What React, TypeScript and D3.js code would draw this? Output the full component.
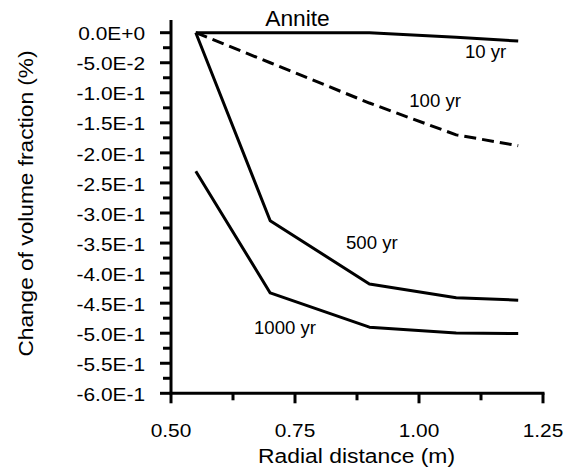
import React from "react";
import * as d3 from "d3";

const radialDistance = [0.55, 0.7, 0.9, 1.075, 1.2];
const yr10 = [0, 0, 0, -0.0075, -0.014];
const yr100 = [0, -0.05, -0.117, -0.17, -0.188];
const yr500 = [0, -0.313, -0.418, -0.441, -0.445];
const yr1000 = [-0.2305, -0.433, -0.49, -0.4995, -0.5005];

const yTickValues = [0, -0.05, -0.1, -0.15, -0.2, -0.25, -0.3, -0.35, -0.4, -0.45, -0.5, -0.55, -0.6];
const yTickLabels = ["0.0E+0", "-5.0E-2", "-1.0E-1", "-1.5E-1", "-2.0E-1", "-2.5E-1", "-3.0E-1", "-3.5E-1", "-4.0E-1", "-4.5E-1", "-5.0E-1", "-5.5E-1", "-6.0E-1"];
const xTickValues = [0.5, 0.75, 1.0, 1.25];
const xTickLabels = ["0.50", "0.75", "1.00", "1.25"];

const seriesNames = ["10 yr", "100 yr", "500 yr", "1000 yr"];
const labelX = [1.0927, 0.9804, 0.8528, 0.6673];
const labelY = [-0.0427, -0.1233, -0.3593, -0.502];

const FONT = "'Liberation Sans', Arial, Helvetica, sans-serif";

export default function App() {
  const x = d3.scaleLinear().domain([0.5, 1.25]).range([171, 543]);
  const y = d3.scaleLinear().domain([0, -0.6]).range([32.7, 393.3]);
  const line = d3
    .line<number>()
    .x((_, i) => x(radialDistance[i]))
    .y((d) => y(d));

  const series = [yr10, yr100, yr500, yr1000];
  const dashes = [undefined, "12,6", undefined, undefined];

  const yMinor: number[] = [];
  for (let i = 0; i < 12; i++) yMinor.push(-0.025 - i * 0.05);
  const xMinor = [0.625, 0.875, 1.125];

  return (
    <svg
      width={569}
      height={470}
      style={{ position: "absolute", left: 0, top: 0, background: "#fff" }}
      fontFamily={FONT}
    >
      <rect x={0} y={0} width={569} height={470} fill="#fff" />
      {/* axes */}
      <line x1={x(0.5)} x2={x(0.5)} y1={y(0.021)} y2={y(-0.6)} stroke="#000" strokeWidth={3} />
      <line x1={x(0.5) - 1.5} x2={x(1.25) + 1.5} y1={y(-0.6)} y2={y(-0.6)} stroke="#000" strokeWidth={3} />
      {yTickValues.map((v, i) => (
        <g key={"yt" + i}>
          <line x1={x(0.5) - 11} x2={x(0.5)} y1={y(v)} y2={y(v)} stroke="#000" strokeWidth={3} />
          <text
            transform={`translate(145,${y(v) + 7.6}) scale(1.13,1)`}
            textAnchor="end"
            fontSize={18.5}
            fill="#000"
          >
            {yTickLabels[i]}
          </text>
        </g>
      ))}
      {yMinor.map((v, i) => (
        <line key={"ym" + i} x1={x(0.5) - 8} x2={x(0.5)} y1={y(v)} y2={y(v)} stroke="#000" strokeWidth={3} />
      ))}
      {xTickValues.map((v, i) => (
        <g key={"xt" + i}>
          <line x1={x(v)} x2={x(v)} y1={y(-0.6)} y2={y(-0.6) + 10} stroke="#000" strokeWidth={3} />
          <text
            transform={`translate(${x(v)},437.3) scale(1.13,1)`}
            textAnchor="middle"
            fontSize={18.5}
            fill="#000"
          >
            {xTickLabels[i]}
          </text>
        </g>
      ))}
      {xMinor.map((v, i) => (
        <line key={"xm" + i} x1={x(v)} x2={x(v)} y1={y(-0.6)} y2={y(-0.6) + 7} stroke="#000" strokeWidth={3} />
      ))}
      {/* axis titles */}
      <text transform="translate(356.5,463) scale(1.09,1)" textAnchor="middle" fontSize={21} fill="#000">
        Radial distance (m)
      </text>
      <text transform="translate(33,203.5) rotate(-90) scale(1.08,1)" textAnchor="middle" fontSize={21} fill="#000">
        Change of volume fraction (%)
      </text>
      {/* series */}
      {series.map((s, i) => (
        <path
          key={"s" + i}
          d={line(s) || ""}
          fill="none"
          stroke="#000"
          strokeWidth={3}
          strokeDasharray={dashes[i]}
          strokeLinejoin="round"
        />
      ))}
      {seriesNames.map((n, i) => (
        <text key={"l" + i} x={x(labelX[i])} y={y(labelY[i])} fontSize={18.6} fill="#000">
          {n}
        </text>
      ))}
      <text transform={`translate(${x(0.755)},${y(0.0117)}) scale(1.06,1)`} textAnchor="middle" fontSize={21.5} fill="#000">
        Annite
      </text>
    </svg>
  );
}
